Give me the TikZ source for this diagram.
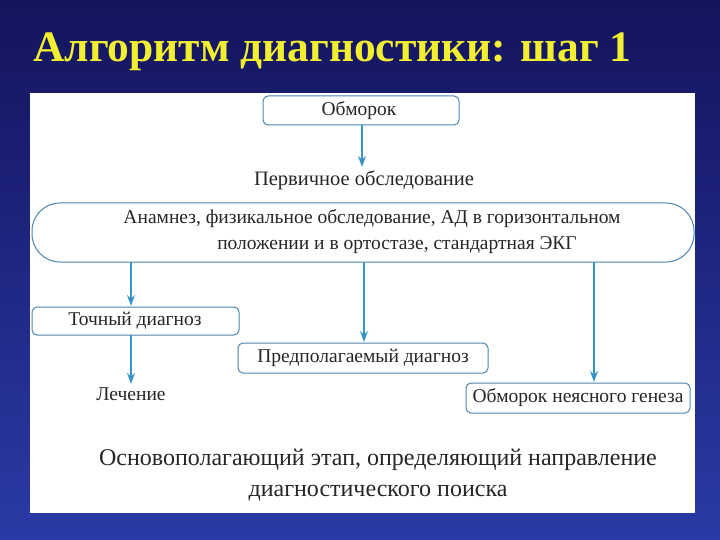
\documentclass[tikz,border=0pt]{standalone}
\usepackage{fontspec}
\setmainfont{Liberation Serif}
\usetikzlibrary{arrows.meta}
\definecolor{bgtop}{HTML}{14145E}
\definecolor{bgbot}{HTML}{2A3AA6}
\definecolor{ttl}{HTML}{F2EE30}
\definecolor{edge}{HTML}{4A86AE}
\definecolor{arr}{HTML}{3896C6}
\tikzset{
  box/.style={draw=edge, line width=1pt, rounded corners=5pt, fill=white},
  lbl/.style={font=\fontsize{19.5}{26}\selectfont, text=black!85},
  conn/.style={draw=arr, line width=1.2pt, -{Stealth[length=11pt,width=8pt]}}
}
\begin{document}
\begin{tikzpicture}[x=1pt,y=-1pt]
\shade[top color=bgtop, bottom color=bgbot] (0,0) rectangle (720,540);
\useasboundingbox (0,0) rectangle (720,540);
\node[anchor=base west, text=ttl, font=\bfseries\fontsize{43.5}{48}\selectfont, inner sep=0] (title) at (33,62) {Алгоритм диагностики: шаг 1};
\fill[white] (30,93) rectangle (695,513);
\draw[box] (263,96) rectangle (459,125);
\node[lbl] (obm) at (359,110.5) {Обморок};
\coordinate (obmS) at (362,125);
\node[lbl, font=\fontsize{20.5}{24}\selectfont] (perv) at (364,180) {Первичное обследование};
\draw[box, rounded corners=28pt] (32,203) rectangle (694,262);
\node[lbl, align=center] (anam) at (372,232) {Анамнез, физикальное обследование, АД в горизонтальном\\ \hspace*{50pt}положении и в ортостазе, стандартная ЭКГ};
\coordinate (a1) at (131,262);
\coordinate (a2) at (364,262);
\coordinate (a3) at (594,262);
\draw[box] (32,307) rectangle (239,335);
\node[lbl] (toch) at (135,321) {Точный диагноз};
\draw[box] (238,343) rectangle (488,373);
\node[lbl] (pred) at (363,358) {Предполагаемый диагноз};
\draw[box] (466,383) rectangle (690,413);
\node[lbl] (nej) at (578,398) {Обморок неясного генеза};
\node[lbl] (lech) at (131,394) {Лечение};
\draw[conn] (obmS) -- (362,167);
\draw[conn] (a1) -- (131,306);
\draw[conn] (a2) -- (364,342);
\draw[conn] (a3) -- (594,382);
\draw[conn] (131,335) -- (lech.north);
\node[lbl, font=\fontsize{24}{31}\selectfont, align=center] (bot) at (378,475) {Основополагающий этап, определяющий направление\\диагностического поиска};
\end{tikzpicture}
\end{document}
